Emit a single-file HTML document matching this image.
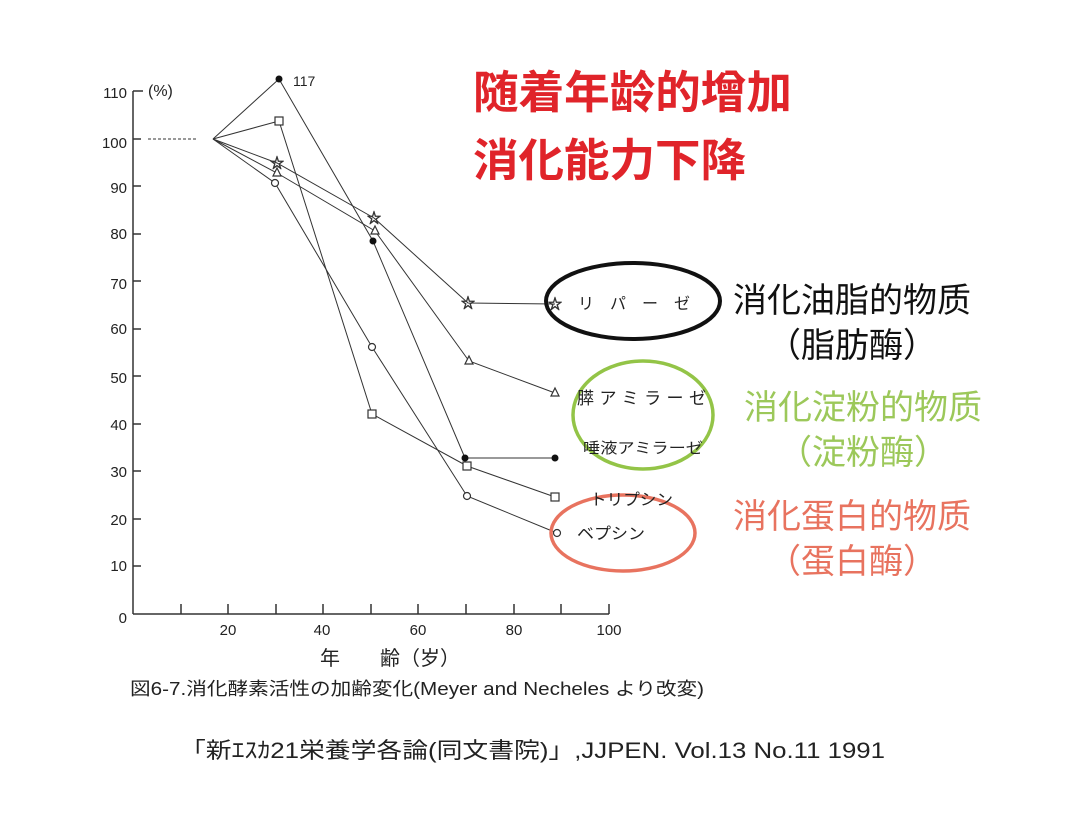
<!DOCTYPE html>
<html><head><meta charset="utf-8"><style>
html,body{margin:0;padding:0;background:#fff;}
svg text{font-family:"Liberation Sans","Noto Sans CJK JP",sans-serif;}
</style></head><body>
<svg width="1069" height="826" viewBox="0 0 1069 826" xmlns="http://www.w3.org/2000/svg">
<rect width="1069" height="826" fill="#fff"/>
<g stroke="#333" stroke-width="1.5" fill="none">
<line x1="133" y1="91" x2="133" y2="614"/>
<line x1="133" y1="614" x2="609" y2="614"/>
<path d="M133 91h10M133 139h8M133 186h8M133 234h8M133 281h8M133 329h8M133 376h8M133 424h8M133 471h8M133 519h8M133 566h8"/>
<path d="M181 614v-10M228 614v-10M276 614v-10M323 614v-10M371 614v-10M418 614v-10M466 614v-10M514 614v-10M561 614v-10M609 614v-10"/>
</g>
<line x1="148" y1="139" x2="198" y2="139" stroke="#333" stroke-width="1" stroke-dasharray="3,2"/>
<g font-size="15" fill="#222" text-anchor="end">
<text x="127" y="98">110</text><text x="127" y="148">100</text><text x="127" y="193">90</text>
<text x="127" y="239">80</text><text x="127" y="289">70</text><text x="127" y="334">60</text>
<text x="127" y="383">50</text><text x="127" y="430">40</text><text x="127" y="477">30</text>
<text x="127" y="525">20</text><text x="127" y="571">10</text><text x="127" y="623">0</text>
</g>
<text x="148" y="96" font-size="16" fill="#222">(%)</text>
<g font-size="15" fill="#222" text-anchor="middle">
<text x="228" y="635">20</text><text x="322" y="635">40</text><text x="418" y="635">60</text>
<text x="514" y="635">80</text><text x="609" y="635">100</text>
</g>
<text x="320" y="665" font-size="20" fill="#222">年</text>
<text x="380" y="665" font-size="20" fill="#222">齢（岁）</text>
<text x="130" y="695" font-size="18" fill="#222" textLength="574" lengthAdjust="spacingAndGlyphs">図6-7.消化酵素活性の加齢変化(Meyer and Necheles より改変)</text>
<text x="180" y="758" font-size="22" fill="#222" textLength="705" lengthAdjust="spacingAndGlyphs">「新ｴｽｶ21栄養学各論(同文書院)」,JJPEN. Vol.13 No.11 1991</text>
<g stroke="#333" stroke-width="1" fill="none">
<polyline points="213,139 279,79 373,241 465,458 555,458"/>
<polyline points="213,139 279,121 372,414 467,466 555,497"/>
<polyline points="213,139 277,163 374,218 468,303 555,304"/>
<polyline points="213,139 277,173 375,231 469,361 555,393"/>
<polyline points="213,139 275,183 372,347 467,496 557,533"/>
</g>
<g fill="#111"><circle cx="279" cy="79" r="3.5"/><circle cx="373" cy="241" r="3.5"/><circle cx="465" cy="458" r="3.5"/><circle cx="555" cy="458" r="3.5"/></g>
<g fill="#fff" stroke="#333" stroke-width="1.2">
<rect x="275" y="117" width="8" height="8"/><rect x="368" y="410" width="8" height="8"/><rect x="463" y="462" width="8" height="8"/><rect x="551" y="493" width="8" height="8"/>
<circle cx="275" cy="183" r="3.5"/><circle cx="372" cy="347" r="3.5"/><circle cx="467" cy="496" r="3.5"/><circle cx="557" cy="533" r="3.5"/>
<path d="M277 168l4 8h-8z"/><path d="M375 226l4 8h-8z"/><path d="M469 356l4 8h-8z"/><path d="M555 388l4 8h-8z"/>
</g>
<g font-size="14" text-anchor="middle">
<text x="277" y="168" fill="#fff" stroke="#333" stroke-width="0.8">☆</text>
<text x="374" y="223" fill="#fff" stroke="#333" stroke-width="0.8">☆</text>
<text x="468" y="308" fill="#fff" stroke="#333" stroke-width="0.8">☆</text>
<text x="555" y="309" fill="#fff" stroke="#333" stroke-width="0.8">☆</text>
</g>
<text x="293" y="86" font-size="14" fill="#222">117</text>
<ellipse cx="633" cy="301" rx="87" ry="38" fill="none" stroke="#111" stroke-width="4"/>
<ellipse cx="643" cy="415" rx="70" ry="54" fill="none" stroke="#93c447" stroke-width="3.5"/>
<ellipse cx="623" cy="533" rx="72" ry="38" fill="none" stroke="#e8735f" stroke-width="3.5"/>
<g font-size="16" fill="#222">
<text x="578" y="309" textLength="112" lengthAdjust="spacing">リパーゼ</text>
<text x="577" y="404" font-size="17" textLength="129" lengthAdjust="spacing">膵アミラーゼ</text>
<text x="583" y="453" font-size="15" textLength="120" lengthAdjust="spacingAndGlyphs">唾液アミラーゼ</text>
<text x="590" y="505" textLength="83" lengthAdjust="spacingAndGlyphs">トリプシン</text>
<text x="577" y="539" textLength="68" lengthAdjust="spacingAndGlyphs">ベプシン</text>
</g>
<g font-weight="bold" font-size="45" fill="#e0242a">
<text x="473" y="108" textLength="319" lengthAdjust="spacingAndGlyphs">随着年龄的增加</text>
<text x="473" y="176" textLength="273" lengthAdjust="spacingAndGlyphs">消化能力下降</text>
</g>
<g font-size="34" text-anchor="middle">
<text x="852" y="312" fill="#111">消化油脂的物质</text>
<text x="852" y="357" fill="#111">（脂肪酶）</text>
<text x="863" y="419" fill="#9cc85a">消化淀粉的物质</text>
<text x="863" y="464" fill="#9cc85a">（淀粉酶）</text>
<text x="852" y="528" fill="#e8735f">消化蛋白的物质</text>
<text x="852" y="573" fill="#e8735f">（蛋白酶）</text>
</g>
</svg>
</body></html>
